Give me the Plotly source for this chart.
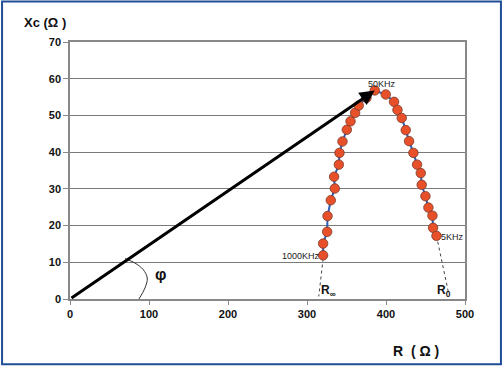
import plotly.graph_objects as go

# Impedance data (R, Xc) in ohms
r_vals = [320.4, 320.4, 325.5, 326.0, 330.1, 335.2, 334.3, 340.3, 341.1, 344.9,
          350.4, 355.1, 360.9, 365.5, 375.3, 385.8,
          399.7, 410.2, 414.5, 419.9, 425.0, 429.2, 434.7, 439.3, 444.0, 445.2,
          449.9, 453.7, 458.8, 459.6, 463.9]
xc_vals = [11.9, 15.1, 18.3, 22.6, 26.9, 30.1, 33.3, 36.6, 39.8, 42.9,
           46.1, 48.4, 50.7, 52.7, 54.8, 56.8,
           55.7, 53.7, 51.5, 49.3, 46.0, 43.0, 39.8, 36.6, 34.3, 31.1,
           28.0, 24.9, 22.7, 19.4, 17.2]

# vector arrow (origin -> 50KHz point)
arrow_start = [0, 0]
arrow_end = [385.8, 56.8]

# phase angle arc
arc_r = [69.6, 82.2, 92.7, 97.8, 94.9, 87.3]
arc_x = [11.0, 9.8, 8.0, 5.7, 3.0, 0.0]

# extrapolation dotted lines
rinf_r = [320.4, 314.9]
rinf_x = [11.0, 0.7]
r0_r = [463.9, 479.4]
r0_x = [17.2, 1.4]

x_ticks = [0, 100, 200, 300, 400, 500]
y_ticks = [0, 10, 20, 30, 40, 50, 60, 70]

fig = go.Figure()

fig.add_trace(go.Scatter(x=rinf_r, y=rinf_x, mode="lines",
                         line=dict(color="#444444", width=1, dash="dot"), hoverinfo="skip"))
fig.add_trace(go.Scatter(x=r0_r, y=r0_x, mode="lines",
                         line=dict(color="#444444", width=1, dash="dot"), hoverinfo="skip"))
fig.add_trace(go.Scatter(x=arc_r, y=arc_x, mode="lines", line_shape="spline",
                         line=dict(color="#333333", width=1), hoverinfo="skip"))
fig.add_trace(go.Scatter(x=r_vals, y=xc_vals, mode="lines+markers",
                         line=dict(color="#2a5cb8", width=2),
                         marker=dict(size=9.5, color="#e8502a",
                                     line=dict(color="#7a3a2a", width=0.8))))

fig.add_annotation(x=arrow_end[0], y=arrow_end[1], ax=arrow_start[0], ay=arrow_start[1],
                   xref="x", yref="y", axref="x", ayref="y", text="",
                   showarrow=True, arrowhead=2, arrowsize=1, arrowwidth=3,
                   arrowcolor="black")

small = dict(family="Liberation Sans, Arial", size=9, color="#222222")
fig.add_annotation(x=394.6, y=58.6, text="50KHz", showarrow=False, font=small)
fig.add_annotation(x=467, y=17.0, text="5KHz", showarrow=False, font=small, xanchor="left")
fig.add_annotation(x=318.7, y=11.8, text="1000KHz", showarrow=False, font=small, xanchor="right")

lab = dict(family="Liberation Sans, Arial", size=12, color="#111111")
fig.add_annotation(x=327.6, y=2.3, text="<b>R<sub>∞</sub></b>", showarrow=False, font=lab)
fig.add_annotation(x=473, y=2.3, text="<b>R<sub>0</sub></b>", showarrow=False, font=lab)
fig.add_annotation(x=115, y=6.6, text="<b>φ</b>", showarrow=False,
                   font=dict(family="Liberation Sans, Arial", size=16, color="#111111"))

fig.add_annotation(xref="paper", yref="paper", x=-0.1215, y=1.076, xanchor="left",
                   yanchor="middle", text="<b>Xc (Ω )</b>", showarrow=False,
                   font=dict(family="Liberation Sans, Arial", size=13, color="#111111"))
fig.add_annotation(xref="paper", yref="paper", x=0.813, y=-0.204, xanchor="left",
                   yanchor="middle", text="<b>R  ( Ω )</b>", showarrow=False,
                   font=dict(family="Liberation Sans, Arial", size=14, color="#111111"))

# outer blue frame
fig.add_shape(type="rect", xref="paper", yref="paper",
              x0=-0.172, y0=-0.254, x1=1.091, y1=1.158,
              line=dict(color="#1f4e96", width=2))

tickfont = dict(family="Liberation Sans, Arial", size=11, color="#111111")
fig.update_layout(
    width=504, height=369,
    margin=dict(l=70, r=39, t=42, b=70),
    paper_bgcolor="white", plot_bgcolor="white",
    showlegend=False,
    xaxis=dict(range=[0, 500], tickvals=x_ticks, ticktext=[f"<b>{v}</b>" for v in x_ticks],
               showgrid=False, zeroline=False, showline=True, linecolor="#888888",
               linewidth=1.5, mirror=True, ticks="outside", ticklen=4, tickcolor="#888888",
               tickfont=tickfont),
    yaxis=dict(range=[0, 70], tickvals=y_ticks, ticktext=[f"<b>{v}</b>" for v in y_ticks],
               showgrid=True, gridcolor="#7a7a7a", gridwidth=1, zeroline=False,
               showline=True, linecolor="#888888", linewidth=1.5, mirror=True,
               ticks="outside", ticklen=5, tickcolor="#888888", tickfont=tickfont),
)

fig.write_html("out.html", config={"displayModeBar": False},
               post_script="document.body.style.margin='0px';document.body.style.padding='0px';")
